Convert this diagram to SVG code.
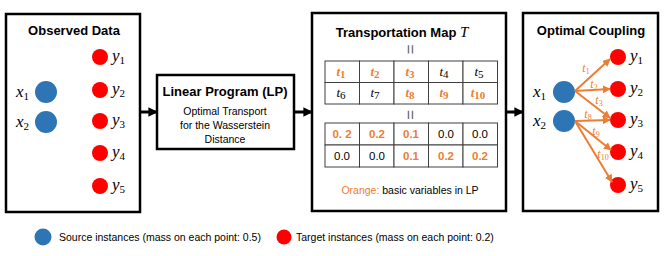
<svg xmlns="http://www.w3.org/2000/svg" width="664" height="256" viewBox="0 0 664 256">
<style>
.box{fill:#fff;stroke:#000;stroke-width:2.5}
.ttl{font-family:"Liberation Sans",Arial,sans-serif;font-weight:bold;font-size:13px;text-anchor:middle}
.sm{font-family:"Liberation Sans",Arial,sans-serif;font-size:10.5px;text-anchor:middle}
.m{font-family:"Liberation Serif","Times New Roman",serif;font-style:italic;font-size:17px}
.sub{font-size:11px;font-style:normal}
.src{fill:#2E75B6}
.tgt{fill:#FF0000}
.cell{fill:#fff;stroke:#404040;stroke-width:1}
.t{font-family:"Liberation Serif","Times New Roman",serif;font-style:italic;font-size:13px;text-anchor:middle}
.o{fill:#ED7D31;font-weight:bold}
.v{font-family:"Liberation Sans",Arial,sans-serif;font-size:11.5px;text-anchor:middle}
.ct{font-family:"Liberation Serif","Times New Roman",serif;font-style:italic;font-size:12px;fill:#ED7D31;text-anchor:middle}
.flow{stroke:#000;stroke-width:3;fill:none}
.cp{stroke:#ED7D31;stroke-width:2;fill:none}
.eq{font-family:"Liberation Sans",Arial,sans-serif;font-size:17px;fill:#666;text-anchor:middle}
.leg{font-family:"Liberation Sans",Arial,sans-serif;font-size:10.5px}
</style>
<defs>
<marker id="ah" viewBox="0 0 10 10" refX="9" refY="5" markerWidth="3.2" markerHeight="3.2" orient="auto"><path d="M0,0 L10,5 L0,10 z" fill="#000"/></marker>
<marker id="oh" viewBox="0 0 10 10" refX="9" refY="5" markerWidth="4" markerHeight="4" orient="auto"><path d="M0,0 L10,5 L0,10 z" fill="#ED7D31"/></marker>
</defs>

<g id="observed">
<rect class="box" x="6" y="14" width="134" height="198"/>
<text class="ttl" x="74" y="35">Observed Data</text>
<circle class="src" cx="46" cy="92" r="11"/>
<circle class="src" cx="46" cy="122" r="11"/>
<text class="m" x="16" y="97">x<tspan class="sub" dy="3">1</tspan></text>
<text class="m" x="16" y="127">x<tspan class="sub" dy="3">2</tspan></text>
<circle class="tgt" cx="100" cy="57" r="8"/>
<circle class="tgt" cx="100" cy="90" r="8"/>
<circle class="tgt" cx="100" cy="121" r="8"/>
<circle class="tgt" cx="100" cy="153" r="8"/>
<circle class="tgt" cx="100" cy="186" r="8"/>
<text class="m" x="112" y="61">y<tspan class="sub" dy="3">1</tspan></text>
<text class="m" x="112" y="94">y<tspan class="sub" dy="3">2</tspan></text>
<text class="m" x="112" y="125">y<tspan class="sub" dy="3">3</tspan></text>
<text class="m" x="112" y="157">y<tspan class="sub" dy="3">4</tspan></text>
<text class="m" x="112" y="190">y<tspan class="sub" dy="3">5</tspan></text>
</g>

<g id="lp">
<rect class="box" x="157" y="75" width="137" height="74"/>
<text class="ttl" x="225" y="96">Linear Program (LP)</text>
<text class="sm" x="225" y="115">Optimal Transport</text>
<text class="sm" x="225" y="129">for the Wasserstein</text>
<text class="sm" x="225" y="143">Distance</text>
</g>

<g id="tmap">
<rect class="box" x="312" y="13" width="194" height="198"/>
<text class="ttl" x="402" y="37">Transportation Map <tspan font-family="Liberation Serif,serif" font-style="italic" font-weight="normal" font-size="15">T</tspan></text>
<text class="eq" x="410" y="55" transform="rotate(90 410 49.5)">=</text>
<g>
<rect class="cell" x="325" y="61" width="34.5" height="21.5"/>
<rect class="cell" x="359.5" y="61" width="34.5" height="21.5"/>
<rect class="cell" x="394" y="61" width="34.5" height="21.5"/>
<rect class="cell" x="428.5" y="61" width="34.5" height="21.5"/>
<rect class="cell" x="463" y="61" width="34.5" height="21.5"/>
<rect class="cell" x="325" y="82.5" width="34.5" height="21.5"/>
<rect class="cell" x="359.5" y="82.5" width="34.5" height="21.5"/>
<rect class="cell" x="394" y="82.5" width="34.5" height="21.5"/>
<rect class="cell" x="428.5" y="82.5" width="34.5" height="21.5"/>
<rect class="cell" x="463" y="82.5" width="34.5" height="21.5"/>
<text class="t o" x="341" y="76">t<tspan class="sub" font-size="9" dy="2">1</tspan></text>
<text class="t o" x="375" y="76">t<tspan class="sub" font-size="9" dy="2">2</tspan></text>
<text class="t o" x="410" y="76">t<tspan class="sub" font-size="9" dy="2">3</tspan></text>
<text class="t" x="444" y="76">t<tspan class="sub" font-size="9" dy="2">4</tspan></text>
<text class="t" x="479" y="76">t<tspan class="sub" font-size="9" dy="2">5</tspan></text>
<text class="t" x="341" y="97">t<tspan class="sub" font-size="9" dy="2">6</tspan></text>
<text class="t" x="375" y="97">t<tspan class="sub" font-size="9" dy="2">7</tspan></text>
<text class="t o" x="410" y="97">t<tspan class="sub" font-size="9" dy="2">8</tspan></text>
<text class="t o" x="444" y="97">t<tspan class="sub" font-size="9" dy="2">9</tspan></text>
<text class="t o" x="478" y="97">t<tspan class="sub" font-size="9" dy="2">10</tspan></text>
</g>
<text class="eq" x="410" y="120.5" transform="rotate(90 410 115)">=</text>
<g>
<rect class="cell" x="325" y="123" width="34.5" height="22"/>
<rect class="cell" x="359.5" y="123" width="34.5" height="22"/>
<rect class="cell" x="394" y="123" width="34.5" height="22"/>
<rect class="cell" x="428.5" y="123" width="34.5" height="22"/>
<rect class="cell" x="463" y="123" width="34.5" height="22"/>
<rect class="cell" x="325" y="145" width="34.5" height="22"/>
<rect class="cell" x="359.5" y="145" width="34.5" height="22"/>
<rect class="cell" x="394" y="145" width="34.5" height="22"/>
<rect class="cell" x="428.5" y="145" width="34.5" height="22"/>
<rect class="cell" x="463" y="145" width="34.5" height="22"/>
<text class="v o" x="342" y="138">0. 2</text>
<text class="v o" x="377" y="138">0.2</text>
<text class="v o" x="411" y="138">0.1</text>
<text class="v" x="446" y="138">0.0</text>
<text class="v" x="480" y="138">0.0</text>
<text class="v" x="342" y="160">0.0</text>
<text class="v" x="377" y="160">0.0</text>
<text class="v o" x="411" y="160">0.1</text>
<text class="v o" x="446" y="160">0.2</text>
<text class="v o" x="480" y="160">0.2</text>
</g>
<text class="sm" x="410" y="194" font-size="11.5"><tspan fill="#ED7D31">Orange:</tspan> basic variables in LP</text>
</g>

<g id="coupling">
<rect class="box" x="523" y="13" width="135" height="198"/>
<text class="ttl" x="591" y="35">Optimal Coupling</text>
<circle class="src" cx="564" cy="92" r="11"/>
<circle class="src" cx="564" cy="121" r="11"/>
<text class="m" x="533" y="97">x<tspan class="sub" dy="3">1</tspan></text>
<text class="m" x="533" y="126">x<tspan class="sub" dy="3">2</tspan></text>
<circle class="tgt" cx="618" cy="57" r="8"/>
<circle class="tgt" cx="618" cy="89" r="8"/>
<circle class="tgt" cx="618" cy="120" r="8"/>
<circle class="tgt" cx="618" cy="152" r="8"/>
<circle class="tgt" cx="618" cy="185" r="8"/>
<text class="m" x="630" y="61">y<tspan class="sub" dy="3">1</tspan></text>
<text class="m" x="630" y="93">y<tspan class="sub" dy="3">2</tspan></text>
<text class="m" x="630" y="124">y<tspan class="sub" dy="3">3</tspan></text>
<text class="m" x="630" y="156">y<tspan class="sub" dy="3">4</tspan></text>
<text class="m" x="630" y="189">y<tspan class="sub" dy="3">5</tspan></text>
</g>

<g id="connectors">
<line class="flow" x1="140" y1="112" x2="157" y2="112" marker-end="url(#ah)"/>
<line class="flow" x1="294" y1="112" x2="312" y2="112" marker-end="url(#ah)"/>
<line class="flow" x1="506" y1="112" x2="523" y2="112" marker-end="url(#ah)"/>
<line class="cp" x1="575" y1="91" x2="610" y2="59" marker-end="url(#oh)"/>
<line class="cp" x1="575" y1="91" x2="610" y2="89" marker-end="url(#oh)"/>
<line class="cp" x1="575" y1="91" x2="610" y2="118" marker-end="url(#oh)"/>
<line class="cp" x1="575" y1="121" x2="610" y2="120" marker-end="url(#oh)"/>
<line class="cp" x1="575" y1="121" x2="611" y2="150" marker-end="url(#oh)"/>
<line class="cp" x1="575" y1="121" x2="612" y2="182" marker-end="url(#oh)"/>
<text class="ct" x="586" y="72">t<tspan font-size="8" font-style="normal" dy="2">1</tspan></text>
<text class="ct" x="594" y="88">t<tspan font-size="8" font-style="normal" dy="2">2</tspan></text>
<text class="ct" x="599" y="104">t<tspan font-size="8" font-style="normal" dy="2">3</tspan></text>
<text class="ct" x="588" y="118">t<tspan font-size="8" font-style="normal" dy="2">8</tspan></text>
<text class="ct" x="596" y="135">t<tspan font-size="8" font-style="normal" dy="2">9</tspan></text>
<text class="ct" x="603" y="158">t<tspan font-size="8" font-style="normal" dy="2">10</tspan></text>
</g>

<g id="legend">
<circle class="src" cx="43" cy="237" r="8.5"/>
<text class="leg" x="59" y="241">Source instances (mass on each point: 0.5)</text>
<circle class="tgt" cx="284" cy="237" r="7.5"/>
<text class="leg" x="296" y="241">Target instances (mass on each point: 0.2)</text>
</g>
</svg>
